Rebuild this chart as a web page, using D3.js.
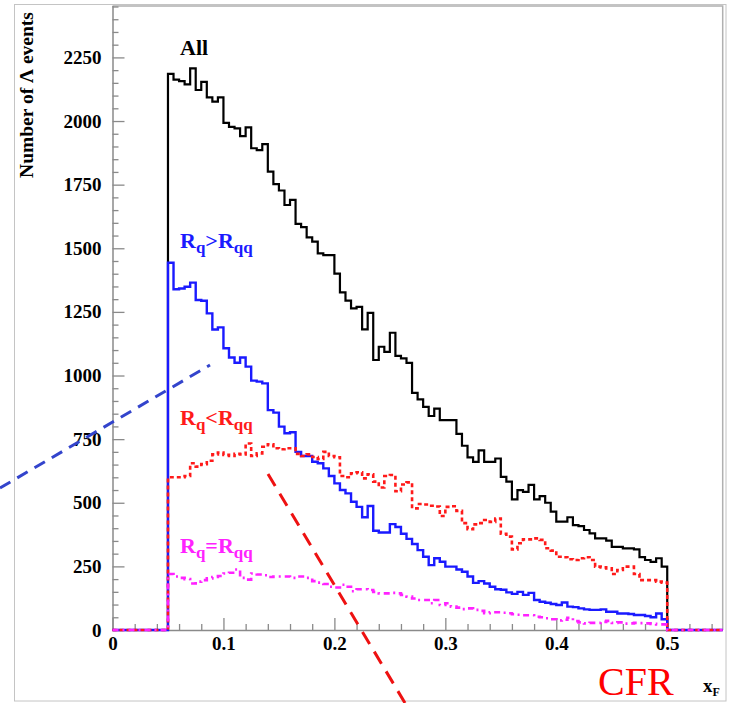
<!DOCTYPE html>
<html>
<head>
<meta charset="utf-8">
<script src="https://cdn.jsdelivr.net/npm/d3@7"></script>
<style>
  html, body { margin: 0; padding: 0; background: #fff; }
  svg { display: block; }
  text { font-family: "Liberation Serif", "Times New Roman", serif; }
</style>
</head>
<body>
<svg id="chart" width="729" height="703"></svg>
<script>
// Histogram binning: 90 bins of width 0.005 between x_F = 0.05 and 0.5
const binStart = 0.05;
const binWidth = 0.005;

// Number of Λ events per x_F bin
const allEvents = [
  2185, 2163, 2157, 2144, 2207, 2122, 2154, 2093, 2076, 2093,
  1993, 1977, 1971, 1941, 1975, 1893, 1886, 1909, 1801, 1752,
  1727, 1670, 1690, 1596, 1583, 1543, 1526, 1480, 1473, 1473,
  1400, 1327, 1294, 1264, 1270, 1181, 1246, 1061, 1113, 1093,
  1168, 1077, 1067, 1050, 932, 906, 877, 841, 870, 825,
  825, 825, 771, 724, 678, 661, 706, 661, 661, 674,
  602, 583, 513, 550, 543, 570, 513, 526, 500, 465,
  426, 426, 443, 412, 408, 393, 380, 360, 360, 351,
  327, 327, 321, 321, 317, 286, 275, 268, 282, 249
];
const rqGreater = [
  1443, 1339, 1342, 1349, 1365, 1297, 1294, 1244, 1181, 1189,
  1107, 1071, 1050, 1071, 1035, 980, 976, 969, 864, 854,
  799, 773, 777, 700, 684, 684, 661, 655, 635, 605,
  576, 550, 537, 504, 484, 443, 487, 390, 383, 383,
  416, 405, 378, 358, 338, 314, 288, 255, 282, 268,
  249, 249, 238, 229, 210, 185, 192, 183, 170, 160,
  158, 148, 142, 150, 138, 146, 118, 111, 107, 102,
  98, 108, 92, 90, 85, 81, 79, 79, 81, 72,
  72, 65, 65, 63, 59, 59, 55, 50, 65, 42
];
const rqLess = [
  600, 600, 600, 605, 655, 642, 652, 665, 690, 697,
  688, 684, 692, 690, 733, 684, 694, 720, 730, 714,
  710, 714, 714, 692, 684, 690, 680, 672, 700, 684,
  679, 605, 600, 616, 620, 596, 612, 583, 560, 605,
  609, 545, 572, 580, 478, 495, 493, 488, 485, 448,
  484, 486, 468, 420, 396, 415, 420, 432, 425, 438,
  378, 367, 317, 341, 356, 356, 360, 354, 321, 312,
  288, 286, 278, 275, 282, 286, 275, 249, 246, 242,
  220, 236, 249, 249, 220, 196, 196, 196, 190, 186
];
const rqEqual = [
  220, 210, 205, 200, 183, 190, 196, 203, 208, 212,
  222, 225, 238, 205, 198, 222, 218, 215, 208, 210,
  210, 210, 205, 210, 210, 205, 192, 186, 181, 170,
  167, 178, 170, 152, 160, 160, 157, 150, 144, 144,
  146, 144, 138, 131, 124, 118, 118, 105, 118, 98,
  105, 92, 88, 82, 85, 79, 75, 66, 70, 70,
  68, 66, 62, 60, 58, 58, 52, 50, 46, 42,
  38, 40, 48, 35, 30, 26, 28, 28, 32, 36,
  28, 30, 25, 26, 28, 27, 26, 24, 22, 22
];

const xMajorTicks = [0, 0.1, 0.2, 0.3, 0.4, 0.5];
const yMajorTicks = [0, 250, 500, 750, 1000, 1250, 1500, 1750, 2000, 2250];

const svg = d3.select("#chart");

// Plot frame
const frameLeft = 112.5, frameRight = 722.7, frameTop = 6, frameBottom = 630;
const x = d3.scaleLinear().domain([0, 0.55]).range([frameLeft, frameRight]);
const y = d3.scaleLinear().domain([0, 2452]).range([frameBottom, frameTop]);

// Canvas border
svg.append("rect")
  .attr("x", 14.5).attr("y", 4.5)
  .attr("width", 711.5).attr("height", 696.5)
  .attr("fill", "none").attr("stroke", "#c4c4c4").attr("stroke-width", 1);

// Frame top and right edges
svg.append("path")
  .attr("d", `M${frameLeft},${frameTop}H${frameRight}V${frameBottom}`)
  .attr("fill", "none").attr("stroke", "#b0b0b0").attr("stroke-width", 1.5);

const axisColor = "#8a8a8a";

// Y axis: major ticks every 250, minor every 50, pointing into the frame
const yMinor = d3.range(0, 2451, 50).filter(v => v % 250 !== 0);
const yAxisG = svg.append("g").attr("transform", `translate(${frameLeft},0)`);
yAxisG.call(d3.axisLeft(y).tickValues(yMajorTicks).tickSize(-12).tickPadding(11).tickFormat(d3.format("d")));
yAxisG.append("g").call(d3.axisLeft(y).tickValues(yMinor).tickSize(-6).tickFormat(""))
  .select(".domain").remove();
yAxisG.selectAll(".domain").attr("stroke", axisColor).attr("stroke-width", 1.5).attr("d", `M0.5,${frameBottom}V${frameTop}`);
yAxisG.selectAll(".tick line").attr("stroke", axisColor).attr("stroke-width", 1.3);
yAxisG.selectAll(".tick text")
  .attr("font-family", "Liberation Serif, serif").attr("font-weight", "bold")
  .attr("font-size", 19).attr("fill", "#000");

// X axis: major ticks every 0.1, minor every 0.02
const xMinor = d3.range(0.02, 0.55, 0.02).filter(v => Math.abs(v * 10 - Math.round(v * 10)) > 1e-6);
const xAxisG = svg.append("g").attr("transform", `translate(0,${frameBottom})`);
xAxisG.call(d3.axisBottom(x).tickValues(xMajorTicks).tickSize(-12).tickPadding(7)
  .tickFormat(d => d === 0 ? "0" : d3.format(".1f")(d)));
xAxisG.append("g").call(d3.axisBottom(x).tickValues(xMinor).tickSize(-6).tickFormat(""))
  .select(".domain").remove();
xAxisG.selectAll(".domain").attr("stroke", axisColor).attr("stroke-width", 1.5).attr("d", `M${frameLeft},0.5H${frameRight}`);
xAxisG.selectAll(".tick line").attr("stroke", axisColor).attr("stroke-width", 1.3);
xAxisG.selectAll(".tick text")
  .attr("font-family", "Liberation Serif, serif").attr("font-weight", "bold")
  .attr("font-size", 19).attr("fill", "#000");

// Axis titles
svg.append("text")
  .attr("transform", `translate(33,95) rotate(-90)`)
  .attr("text-anchor", "middle")
  .attr("font-weight", "bold").attr("font-size", 19.5)
  .text("Number of Λ events");

const xTitle = svg.append("text")
  .attr("x", 703).attr("y", 692)
  .attr("font-weight", "bold").attr("font-size", 19);
xTitle.append("tspan").text("x");
xTitle.append("tspan").attr("font-size", 12).attr("dy", 4).text("F");

// Step-outline histogram, including the empty region outside [0.05, 0.5]
function histPoints(values) {
  const pts = [[0, 0]];
  values.forEach((v, i) => pts.push([binStart + i * binWidth, v]));
  const end = binStart + values.length * binWidth;
  pts.push([end, 0]);
  pts.push([0.55, 0]);
  return pts;
}
const stepLine = d3.line()
  .x(d => x(d[0]))
  .y(d => y(d[1]))
  .curve(d3.curveStepAfter);

const series = [
  { values: allEvents, color: "#000000", width: 2.2, dash: null },
  { values: rqGreater, color: "#1a1aff", width: 2.4, dash: null },
  { values: rqLess, color: "#ff1a1a", width: 2.6, dash: "4,3" },
  { values: rqEqual, color: "#ff22ff", width: 2.6, dash: "6,4,2,4" }
];
series.forEach(s => {
  svg.append("path")
    .attr("d", stepLine(histPoints(s.values)))
    .attr("fill", "none")
    .attr("stroke", s.color)
    .attr("stroke-width", s.width)
    .attr("stroke-linejoin", "miter")
    .attr("stroke-dasharray", s.dash);
});

// Series labels
svg.append("text").attr("x", 180).attr("y", 55)
  .attr("font-weight", "bold").attr("font-size", 22).attr("fill", "#000").text("All");

function ratioLabel(px, py, sign, color) {
  const t = svg.append("text").attr("x", px).attr("y", py)
    .attr("font-weight", "bold").attr("font-size", 22).attr("fill", color);
  t.append("tspan").text("R");
  t.append("tspan").attr("font-size", 17).attr("dy", 5).text("q");
  t.append("tspan").attr("dy", -5).text(sign);
  t.append("tspan").text("R");
  t.append("tspan").attr("font-size", 17).attr("dy", 5).text("qq");
}
ratioLabel(180, 248, ">", "#1a1aff");
ratioLabel(180, 425, "<", "#ff1a1a");
ratioLabel(180, 553, "=", "#ff22ff");

// Annotation strokes
svg.append("line")
  .attr("x1", 0).attr("y1", 488).attr("x2", 210).attr("y2", 365)
  .attr("stroke", "#3344cc").attr("stroke-width", 3).attr("stroke-dasharray", "12,8");
svg.append("line")
  .attr("x1", 268).attr("y1", 474).attr("x2", 405).attr("y2", 703)
  .attr("stroke", "#ee1111").attr("stroke-width", 3).attr("stroke-dasharray", "14,9");

// CFR tag
svg.append("text").attr("x", 598).attr("y", 695)
  .attr("font-size", 40).attr("fill", "#ff0000").text("CFR");
</script>
</body>
</html>
